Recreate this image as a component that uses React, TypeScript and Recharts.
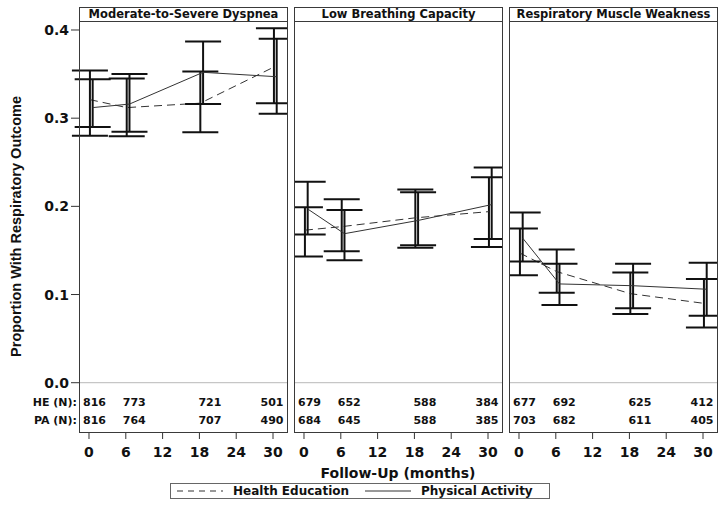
import React from "react";
import {
  ComposedChart,
  Line,
  Scatter,
  XAxis,
  YAxis,
  ErrorBar,
  ReferenceLine,
  Label,
} from "recharts";

// follow-up visits (months)
const months = [0, 6, 18, 30];
const xTicks = [0, 6, 12, 18, 24, 30];
const yTicks = [0, 0.1, 0.2, 0.3, 0.4];

const panelTitles = [
  "Moderate-to-Severe Dyspnea",
  "Low Breathing Capacity",
  "Respiratory Muscle Weakness",
];
const rowLabels = ["HE (N):", "PA (N):"];
const legendNames = ["Health Education", "Physical Activity"];

// Moderate-to-Severe Dyspnea
const dysHE = [0.321, 0.312, 0.317, 0.358];
const dysHELow = [0.28, 0.2795, 0.284, 0.317];
const dysHEHigh = [0.354, 0.345, 0.353, 0.402];
const dysPA = [0.312, 0.316, 0.352, 0.347];
const dysPALow = [0.29, 0.2845, 0.316, 0.305];
const dysPAHigh = [0.344, 0.35, 0.387, 0.39];

// Low Breathing Capacity
const lbcHE = [0.173, 0.177, 0.187, 0.194];
const lbcHELow = [0.143, 0.149, 0.153, 0.154];
const lbcHEHigh = [0.199, 0.208, 0.219, 0.233];
const lbcPA = [0.197, 0.169, 0.184, 0.202];
const lbcPALow = [0.168, 0.139, 0.156, 0.163];
const lbcPAHigh = [0.228, 0.196, 0.216, 0.244];

// Respiratory Muscle Weakness
const rmwHE = [0.147, 0.126, 0.101, 0.09];
const rmwHELow = [0.122, 0.102, 0.078, 0.0625];
const rmwHEHigh = [0.175, 0.151, 0.125, 0.1175];
const rmwPA = [0.164, 0.112, 0.11, 0.106];
const rmwPALow = [0.1375, 0.088, 0.0845, 0.076];
const rmwPAHigh = [0.193, 0.135, 0.135, 0.136];

// number at risk
const dysHEN = [816, 773, 721, 501];
const dysPAN = [816, 764, 707, 490];
const lbcHEN = [679, 652, 588, 384];
const lbcPAN = [684, 645, 588, 385];
const rmwHEN = [677, 692, 625, 412];
const rmwPAN = [703, 682, 611, 405];

// layout
const FONT = "'DejaVu Sans', sans-serif";
const HE_SHIFT = 0.15;
const PA_SHIFT = 0.6;
const HE_ROW = -0.0215;
const PA_ROW = -0.0423;
const X_DOMAIN: [number, number] = [-1.63, 32.28];
const Y_DOMAIN: [number, number] = [-0.0559, 0.4102];
const PLOT_TOP = 21;
const PLOT_W = 208;
const AXIS_H = 74;
const H = 506;
const panelLeft = [79, 294, 509];
const countDx = [-6, -3, -1, 10.5];

const series = (mean: number[], lo: number[], hi: number[], shift: number) =>
  months.map((m, i) => ({
    x: m + shift,
    y: mean[i],
    err: [mean[i] - lo[i], hi[i] - mean[i]],
  }));

const counts = (n: number[], row: number) =>
  months.map((m, i) => ({ x: m, y: row, n: n[i] }));

const panels = [
  {
    he: series(dysHE, dysHELow, dysHEHigh, HE_SHIFT),
    pa: series(dysPA, dysPALow, dysPAHigh, PA_SHIFT),
    heN: counts(dysHEN, HE_ROW),
    paN: counts(dysPAN, PA_ROW),
  },
  {
    he: series(lbcHE, lbcHELow, lbcHEHigh, HE_SHIFT),
    pa: series(lbcPA, lbcPALow, lbcPAHigh, PA_SHIFT),
    heN: counts(lbcHEN, HE_ROW),
    paN: counts(lbcPAN, PA_ROW),
  },
  {
    he: series(rmwHE, rmwHELow, rmwHEHigh, HE_SHIFT),
    pa: series(rmwPA, rmwPALow, rmwPAHigh, PA_SHIFT),
    heN: counts(rmwHEN, HE_ROW),
    paN: counts(rmwPAN, PA_ROW),
  },
];

const CountText = (props: any) => {
  const { cx, cy, payload } = props;
  const i = months.indexOf(payload.x);
  const last = i === months.length - 1;
  return (
    <text
      x={cx + countDx[i]}
      y={cy}
      dy="0.36em"
      textAnchor={last ? "end" : "start"}
      fontFamily={FONT}
      fontWeight="bold"
      fontSize={11}
      fill="#111"
    >
      {payload.n}
    </text>
  );
};

const YTick = (props: any) => {
  const { x, y, payload } = props;
  const v = payload.value;
  if (v < 0) {
    return (
      <text
        x={x + 8}
        y={y}
        dy="0.36em"
        textAnchor="end"
        fontFamily={FONT}
        fontWeight="bold"
        fontSize={11}
        fill="#111"
      >
        {v === HE_ROW ? rowLabels[0] : rowLabels[1]}
      </text>
    );
  }
  return (
    <g>
      <line x1={x + 2} x2={x + 10} y1={y} y2={y} stroke="#333" />
      <text
        x={x}
        y={y}
        dy="0.36em"
        textAnchor="end"
        fontFamily={FONT}
        fontWeight="bold"
        fontSize={14}
        fill="#111"
      >
        {v.toFixed(1)}
      </text>
    </g>
  );
};

const YTitle = (props: any) => {
  const vb = props.viewBox;
  const cx = vb.x + 16;
  const cy = vb.y + vb.height / 2;
  return (
    <text
      x={cx}
      y={cy}
      transform={`rotate(-90, ${cx}, ${cy})`}
      textAnchor="middle"
      dominantBaseline="central"
      fontFamily="'Liberation Sans', Arial, sans-serif"
      fontWeight="bold"
      fontSize={14.5}
      fill="#111"
    >
      Proportion With Respiratory Outcome
    </text>
  );
};

const XTitle = (props: any) => {
  const vb = props.viewBox;
  return (
    <text
      x={vb.x + vb.width / 2}
      y={vb.y + 46}
      textAnchor="middle"
      fontFamily={FONT}
      fontWeight="bold"
      fontSize={14}
      fill="#111"
    >
      Follow-Up (months)
    </text>
  );
};

function Panel({ idx }: { idx: number }) {
  const p = panels[idx];
  const first = idx === 0;
  const left = first ? 0 : panelLeft[idx];
  const width = first ? panelLeft[0] + PLOT_W : PLOT_W;
  return (
    <div style={{ position: "absolute", left, top: 0 }}>
      <ComposedChart
        width={width}
        height={H}
        margin={{ top: PLOT_TOP, right: 0, bottom: 0, left: 0 }}
      >
        <XAxis
          type="number"
          dataKey="x"
          domain={X_DOMAIN}
          allowDataOverflow
          ticks={xTicks}
          interval={0}
          height={AXIS_H}
          axisLine={false}
          tickSize={7}
          tickMargin={8}
          tickLine={{ stroke: "#333" }}
          tick={{ fontFamily: FONT, fontWeight: "bold", fontSize: 14, fill: "#111" }}
        >
          {idx === 1 && <Label content={<XTitle />} />}
        </XAxis>
        <YAxis
          type="number"
          domain={Y_DOMAIN}
          allowDataOverflow
          hide={!first}
          width={first ? panelLeft[0] : 0}
          ticks={[PA_ROW, HE_ROW, ...yTicks]}
          interval={0}
          axisLine={false}
          tickLine={false}
          tickSize={8}
          tickMargin={2}
          tick={<YTick />}
        >
          {first && <Label content={<YTitle />} />}
        </YAxis>
        <ReferenceLine y={0} stroke="#b8b8b8" strokeWidth={1} />
        <Line
          data={p.he}
          dataKey="y"
          stroke="#333"
          strokeWidth={1}
          strokeDasharray="8 5"
          dot={false}
          isAnimationActive={false}
        >
          <ErrorBar
            dataKey="err"
            width={18}
            stroke="#111"
            strokeWidth={2}
            isAnimationActive={false}
          />
        </Line>
        <Line
          data={p.pa}
          dataKey="y"
          stroke="#333"
          strokeWidth={1}
          dot={false}
          isAnimationActive={false}
        >
          <ErrorBar
            dataKey="err"
            width={18}
            stroke="#111"
            strokeWidth={2}
            isAnimationActive={false}
          />
        </Line>
        <Scatter data={p.heN} dataKey="y" shape={<CountText />} isAnimationActive={false} />
        <Scatter data={p.paN} dataKey="y" shape={<CountText />} isAnimationActive={false} />
      </ComposedChart>
      {/* panel frame with header strip */}
      <div
        style={{
          position: "absolute",
          left: first ? panelLeft[0] : 0,
          top: 7,
          width: PLOT_W + 1,
          height: 426,
          boxSizing: "border-box",
          border: "1px solid #3a3a3a",
          pointerEvents: "none",
        }}
      >
        <div
          style={{
            height: 14,
            boxSizing: "border-box",
            borderBottom: "1px solid #3a3a3a",
            background: "#fff",
            fontFamily: FONT,
            fontWeight: "bold",
            fontSize: 11.5,
            lineHeight: "13px",
            textAlign: "center",
            color: "#111",
            whiteSpace: "nowrap",
          }}
        >
          {panelTitles[idx]}
        </div>
      </div>
    </div>
  );
}

function LegendBox() {
  const text: React.CSSProperties = {
    fontFamily: FONT,
    fontWeight: "bold",
    fontSize: 12,
    color: "#111",
    whiteSpace: "nowrap",
    marginLeft: 10,
  };
  return (
    <div
      style={{
        position: "absolute",
        left: 170,
        top: 483,
        width: 380,
        height: 16,
        boxSizing: "border-box",
        border: "1px solid #666",
        display: "flex",
        alignItems: "center",
        paddingLeft: 6,
      }}
    >
      <svg width={46} height={4}>
        <line x1={0} x2={46} y1={2} y2={2} stroke="#333" strokeDasharray="6 5" />
      </svg>
      <span style={text}>{legendNames[0]}</span>
      <svg width={46} height={4} style={{ marginLeft: 16 }}>
        <line x1={0} x2={46} y1={2} y2={2} stroke="#333" />
      </svg>
      <span style={text}>{legendNames[1]}</span>
    </div>
  );
}

export default function App() {
  return (
    <div
      style={{
        position: "absolute",
        left: 0,
        top: 0,
        width: 724,
        height: H,
        background: "#fff",
        overflow: "hidden",
      }}
    >
      <Panel idx={0} />
      <Panel idx={1} />
      <Panel idx={2} />
      <LegendBox />
    </div>
  );
}
